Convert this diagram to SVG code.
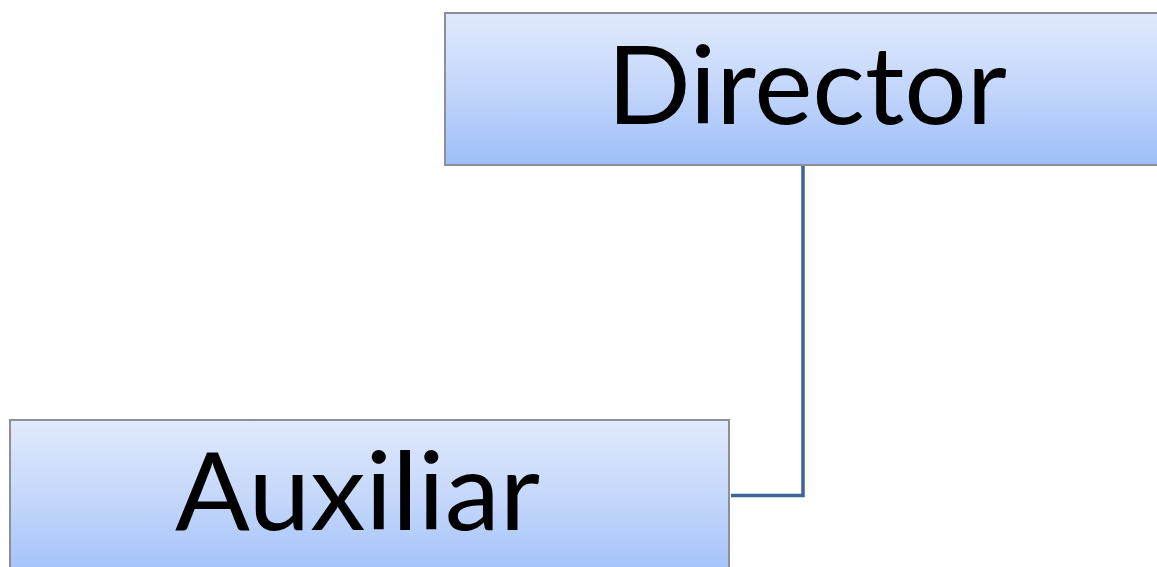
<svg xmlns="http://www.w3.org/2000/svg" width="1157" height="567" viewBox="0 0 1157 567">
<defs>
<linearGradient id="g" x1="0" y1="0" x2="0" y2="1">
<stop offset="0" stop-color="#e1eafc"/>
<stop offset="0.5" stop-color="#c3d6fb"/>
<stop offset="1" stop-color="#9dbff9"/>
</linearGradient>
</defs>
<style>
.box{fill:url(#g);stroke:#8c9096;stroke-width:2}
.lbl{font-family:Lato,"Open Sans","Liberation Sans",sans-serif;font-size:108px;fill:#000}
.conn{fill:none;stroke:#3d6698;stroke-width:3.5}
</style>
<rect width="1157" height="567" fill="#fff"/>
<g id="connectors">
<polyline class="conn" points="803,166 803,495.5 731,495.5"/>
</g>
<g id="director">
<rect class="box" x="445" y="13" width="730" height="152"/>
<text class="lbl" x="607" y="124" textLength="400" lengthAdjust="spacingAndGlyphs">Director</text>
</g>
<g id="auxiliar">
<rect class="box" x="10" y="420" width="719" height="165"/>
<text class="lbl" x="175" y="530" textLength="365" lengthAdjust="spacingAndGlyphs">Auxiliar</text>
</g>
</svg>
